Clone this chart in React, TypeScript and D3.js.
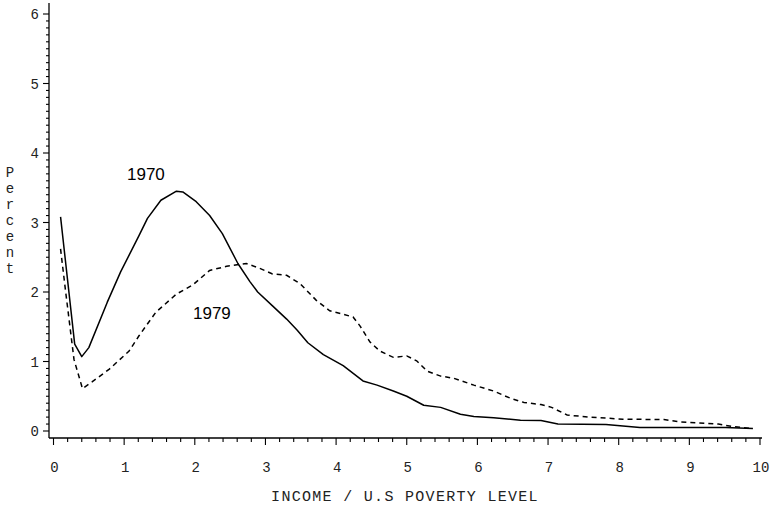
import React from "react";
import * as d3 from "d3";

const xTickLabels = ["0", "1", "2", "3", "4", "5", "6", "7", "8", "9", "10"];
const yTickLabels = ["0", "1", "2", "3", "4", "5", "6"];

const income1970 = [0.1, 0.3, 0.4, 0.5, 0.76, 0.95, 1.21, 1.33, 1.52, 1.74, 1.83, 2.02, 2.21, 2.39, 2.61, 2.78, 2.89, 3.1, 3.3, 3.45, 3.6, 3.82, 4.1, 4.38, 4.58, 4.81, 5.0, 5.24, 5.48, 5.76, 5.95, 6.23, 6.61, 6.9, 7.14, 7.82, 8.3, 9.51, 9.9];
const percent1970 = [3.08, 1.25, 1.07, 1.2, 1.85, 2.29, 2.81, 3.06, 3.32, 3.45, 3.44, 3.3, 3.1, 2.84, 2.41, 2.15, 2.0, 1.8, 1.61, 1.45, 1.27, 1.1, 0.94, 0.72, 0.66, 0.575, 0.5, 0.37, 0.34, 0.24, 0.21, 0.19, 0.155, 0.15, 0.1, 0.095, 0.05, 0.05, 0.035];

const income1979 = [0.1, 0.17, 0.29, 0.41, 0.55, 0.79, 1.07, 1.21, 1.45, 1.74, 1.97, 2.21, 2.45, 2.73, 2.92, 3.1, 3.3, 3.49, 3.72, 3.91, 4.1, 4.24, 4.34, 4.48, 4.62, 4.81, 5.0, 5.14, 5.29, 5.48, 5.66, 5.95, 6.23, 6.47, 6.66, 6.9, 7.05, 7.27, 7.58, 8.06, 8.64, 8.88, 9.41, 9.6, 9.9];
const percent1979 = [2.62, 2.02, 1.03, 0.61, 0.71, 0.89, 1.15, 1.37, 1.71, 1.97, 2.1, 2.31, 2.37, 2.41, 2.34, 2.26, 2.24, 2.12, 1.88, 1.73, 1.68, 1.64, 1.51, 1.28, 1.15, 1.06, 1.08, 1.01, 0.86, 0.79, 0.76, 0.66, 0.575, 0.47, 0.41, 0.38, 0.34, 0.23, 0.2, 0.17, 0.165, 0.13, 0.1, 0.065, 0.035];

const yLabelLetters = ["P", "e", "r", "c", "e", "n", "t"];
const xTitle = "INCOME / U.S POVERTY LEVEL";

export default function App() {
  const W = 772, H = 508;
  const x = d3.scaleLinear().domain([0, 10]).range([53.5, 760]);
  const y = d3.scaleLinear().domain([0, 6]).range([431, 14]);
  const axisX = 49;
  const axisY = 438;
  const mono = "'Liberation Mono', 'Courier New', monospace";
  const sans = "'Liberation Sans', Arial, sans-serif";

  const line = d3.line<[number, number]>().x(d => x(d[0])).y(d => y(d[1]));
  const d1970 = line(income1970.map((v, i) => [v, percent1970[i]] as [number, number])) || "";
  const d1979 = line(income1979.map((v, i) => [v, percent1979[i]] as [number, number])) || "";

  const yMinor = d3.range(0, 61).map(i => i / 10);
  const xMinor = d3.range(0, 51).map(i => i / 5);

  return (
    <svg width={W} height={H} style={{ position: "absolute", left: 0, top: 0, background: "#fff" }}>
      <rect x={0} y={0} width={W} height={H} fill="#fff" />
      <line x1={axisX} x2={axisX} y1={3} y2={axisY} stroke="#000" strokeWidth={1.3} />
      <line x1={axisX} x2={762} y1={axisY} y2={axisY} stroke="#000" strokeWidth={1.3} />
      {yMinor.map((v, i) => (
        <line key={"yt" + i} x1={axisX} x2={axisX - (i % 10 === 0 ? 6 : 3)} y1={y(v)} y2={y(v)} stroke="#000" strokeWidth={1.1} />
      ))}
      {xMinor.map((v, i) => (
        <line key={"xt" + i} x1={x(v)} x2={x(v)} y1={axisY} y2={axisY + (i % 5 === 0 ? 7 : 4)} stroke="#000" strokeWidth={1.1} />
      ))}
      {yTickLabels.map(t => (
        <text key={"yl" + t} x={39} y={y(+t) + 5} textAnchor="end" fontFamily={mono} fontSize={14} fill="#222">{t}</text>
      ))}
      {xTickLabels.map(t => (
        <text key={"xl" + t} x={x(+t) + 1} y={472} textAnchor="middle" fontFamily={mono} fontSize={14} fill="#222">{t}</text>
      ))}
      {yLabelLetters.map((c, i) => (
        <text key={"pl" + i} x={10} y={177 + i * 16} textAnchor="middle" fontFamily={mono} fontSize={14} fill="#222">{c}</text>
      ))}
      <text x={405} y={501} textAnchor="middle" fontFamily={mono} fontSize={15} letterSpacing={1.3} fill="#222">{xTitle}</text>
      <path d={d1970} fill="none" stroke="#000" strokeWidth={1.5} strokeLinejoin="round" />
      <path d={d1979} fill="none" stroke="#000" strokeWidth={1.5} strokeDasharray="5,4" />
      <text x={127} y={180} fontFamily={sans} fontSize={17} fill="#000">1970</text>
      <text x={193} y={319} fontFamily={sans} fontSize={17} fill="#000">1979</text>
    </svg>
  );
}
